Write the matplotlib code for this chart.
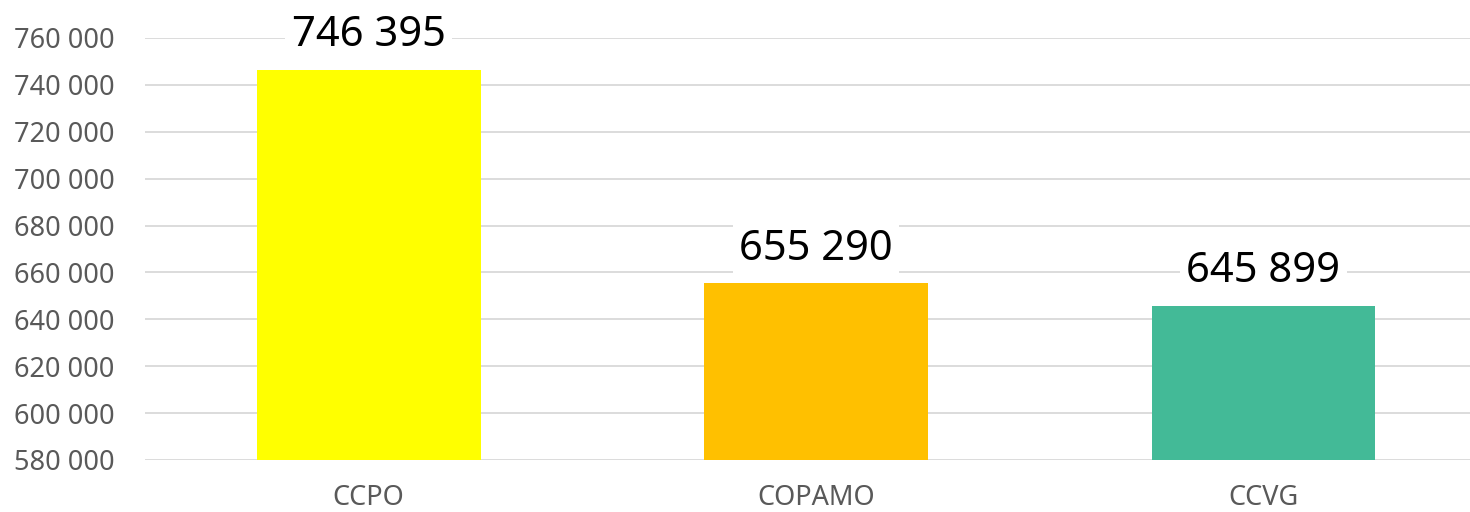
import matplotlib
matplotlib.use("Agg")
import matplotlib.pyplot as plt
import matplotlib.ticker as ticker

# Data
categories = ["CCPO", "COPAMO", "CCVG"]
values = [746395, 655290, 645899]
colors = ["#FFFF00", "#FFC000", "#43BA97"]


def space_thousands(x, pos=None):
    return f"{int(x):,}".replace(",", " ")


plt.rcParams["font.family"] = ["Noto Sans", "DejaVu Sans"]

fig = plt.figure(figsize=(14.7, 5.12), dpi=100)
ax = fig.add_axes([145 / 1470, 1 - 460 / 512, 1342 / 1470, 422 / 512])

ax.bar(range(len(categories)), values, width=0.5, color=colors, zorder=3)

ax.set_ylim(580000, 760000)
ax.set_xlim(-0.5, 2.5)
ax.yaxis.set_major_locator(ticker.MultipleLocator(20000))
ax.yaxis.set_major_formatter(ticker.FuncFormatter(space_thousands))
ax.set_xticks(range(len(categories)))
ax.set_xticklabels(categories)

ax.grid(axis="y", color="#D9D9D9", linewidth=1.3, zorder=0)
for side in ["top", "right", "left", "bottom"]:
    ax.spines[side].set_visible(False)
ax.tick_params(axis="both", length=0, colors="#595959", labelsize=19.5)
ax.tick_params(axis="y", pad=22)
ax.tick_params(axis="x", pad=17)

# Value labels with white box
for i, v in enumerate(values):
    ax.annotate(space_thousands(v), xy=(i, v), xytext=(0, 10), textcoords="offset points",
                ha="center", va="bottom", fontsize=30, color="black", zorder=4,
                bbox=dict(boxstyle="square,pad=0.15", facecolor="white", edgecolor="none"),
                annotation_clip=False)

fig.savefig("out.png", dpi=100)
